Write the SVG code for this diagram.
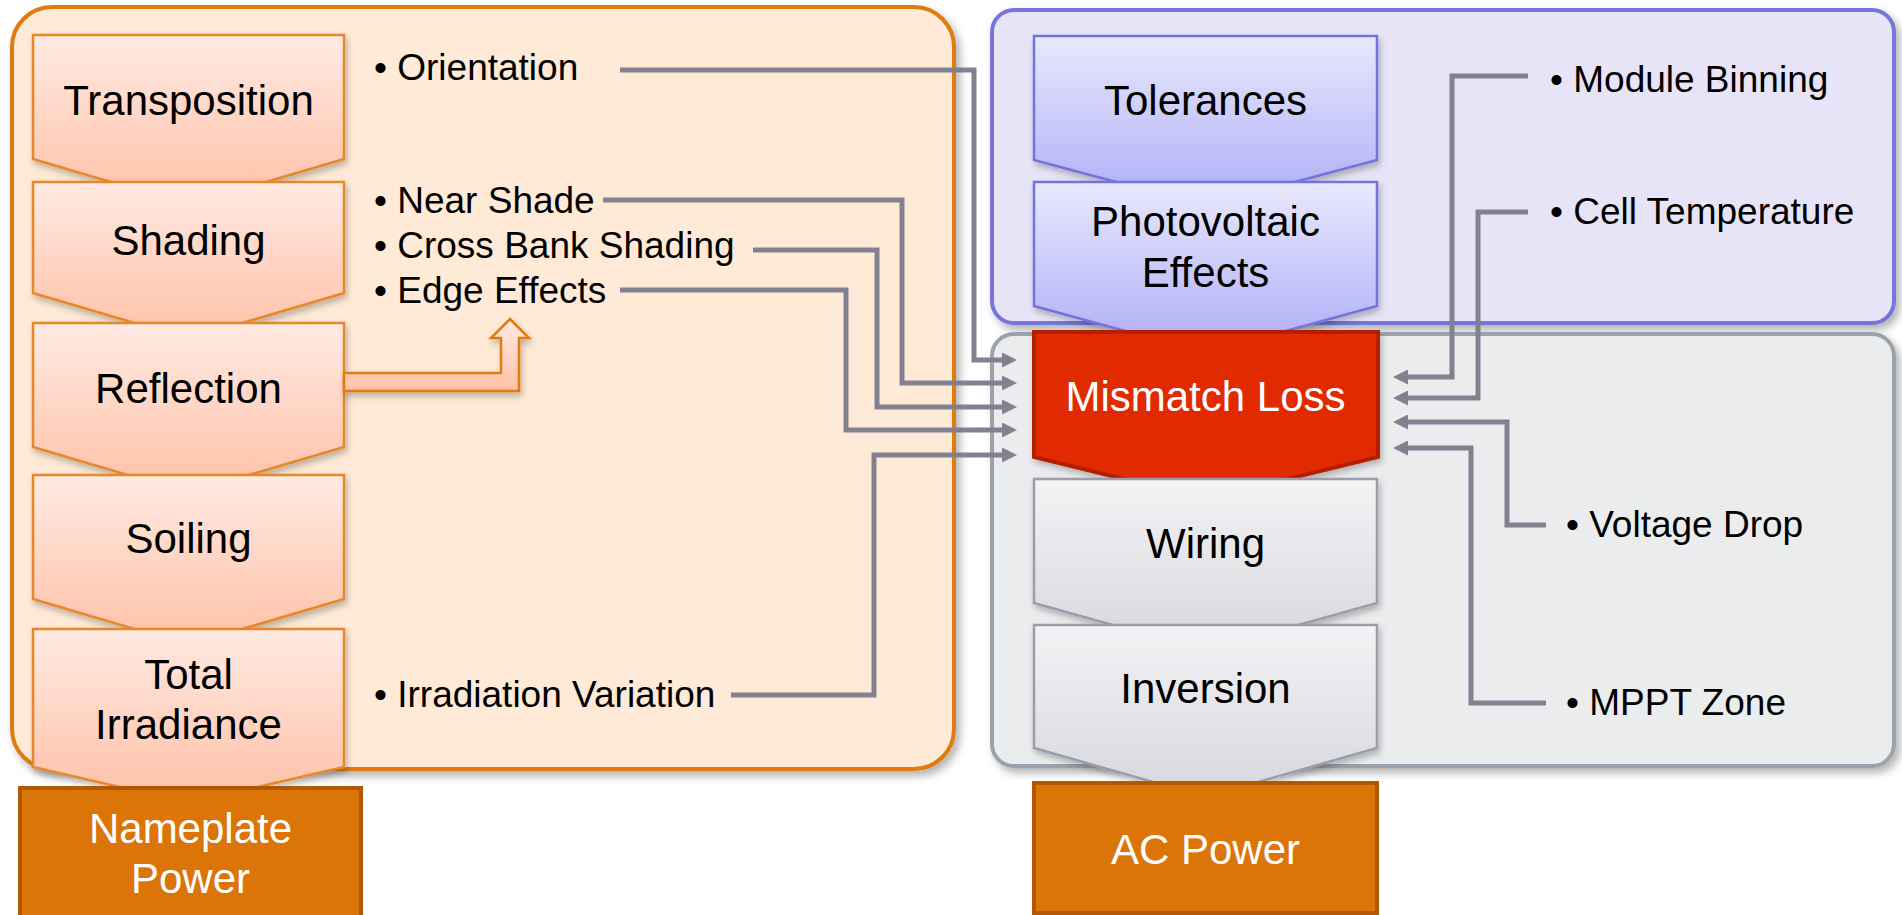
<svg xmlns="http://www.w3.org/2000/svg" width="1902" height="915" viewBox="0 0 1902 915">
<defs>
<linearGradient id="gOr" x1="0" y1="0" x2="0" y2="1"><stop offset="0" stop-color="#FFEAE2"/><stop offset="1" stop-color="#FFC0A6"/></linearGradient>
<linearGradient id="gBl" x1="0" y1="0" x2="0" y2="1"><stop offset="0" stop-color="#E8E8FC"/><stop offset="1" stop-color="#ADADF7"/></linearGradient>
<linearGradient id="gGr" x1="0" y1="0" x2="0" y2="1"><stop offset="0" stop-color="#F3F3F5"/><stop offset="1" stop-color="#D6D6DE"/></linearGradient>
<filter id="sh" x="-5%" y="-5%" width="112%" height="115%"><feDropShadow dx="4" dy="5" stdDeviation="4" flood-color="#000" flood-opacity="0.3"/></filter>
<filter id="sh2" x="-5%" y="-5%" width="115%" height="125%"><feDropShadow dx="2" dy="4" stdDeviation="3" flood-color="#000" flood-opacity="0.25"/></filter>
<marker id="ah" viewBox="0 0 15 15" markerWidth="15" markerHeight="15" markerUnits="userSpaceOnUse" refX="3" refY="7.5" orient="auto"><path d="M0,0 L15,7.5 L0,15 z" fill="#83808F"/></marker>
<style>
.t{font-family:"Liberation Sans",Arial,sans-serif;font-size:42px;fill:#000;text-anchor:middle}
.w{fill:#fff}
.b{font-family:"Liberation Sans",Arial,sans-serif;font-size:37px;fill:#000}
.co{fill:url(#gOr);stroke:#E8862A;stroke-width:2.5;filter:url(#sh2)}
.cb{fill:url(#gBl);stroke:#7373DF;stroke-width:2.5;filter:url(#sh2)}
.cg{fill:url(#gGr);stroke:#9C9CAA;stroke-width:2.5;filter:url(#sh2)}
.ln{fill:none;stroke:#83808F;stroke-width:5;stroke-linejoin:miter}
.box{fill:#DC7508;stroke:#B25800;stroke-width:4}
</style>
</defs>
<rect width="1902" height="915" fill="#fff"/>
<g id="panels">
<rect id="panel-left" x="12" y="7" width="942" height="762" rx="40" fill="#FEEAD6" stroke="#E07B10" stroke-width="4" filter="url(#sh)"/>
<rect id="panel-blue" x="992" y="10" width="902" height="313" rx="22" fill="#E6E4F6" stroke="#7575DA" stroke-width="4" filter="url(#sh)"/>
<rect id="panel-gray" x="992" y="334" width="902" height="432" rx="22" fill="#EBECEE" stroke="#9AA2AC" stroke-width="4" filter="url(#sh)"/>
</g>
<g id="transposition"><polygon class="co" points="33,35 344,35 344,159 188.5,205 33,159"/><text class="t" x="188.5" y="115">Transposition</text></g>
<g id="shading"><polygon class="co" points="33,182 344,182 344,293 188.5,339 33,293"/><text class="t" x="188.5" y="255">Shading</text></g>
<g id="reflection"><polygon class="co" points="33,323 344,323 344,447 188.5,493 33,447"/><text class="t" x="188.5" y="403">Reflection</text></g>
<g id="soiling"><polygon class="co" points="33,475 344,475 344,599 188.5,645 33,599"/><text class="t" x="188.5" y="553">Soiling</text></g>
<g id="total-irradiance"><polygon class="co" points="33,629 344,629 344,767 188.5,803 33,767"/><text class="t" x="188.5" y="689">Total</text><text class="t" x="188.5" y="739">Irradiance</text></g>
<g id="nameplate-power"><rect class="box" x="20" y="788" width="341" height="132"/><text class="t w" x="190.5" y="843">Nameplate</text><text class="t w" x="190.5" y="893">Power</text></g>
<g id="tolerances"><polygon class="cb" points="1034,36 1377,36 1377,160 1205.5,206 1034,160"/><text class="t" x="1205.5" y="115">Tolerances</text></g>
<g id="photovoltaic-effects"><polygon class="cb" points="1034,182 1377,182 1377,306 1205.5,353 1034,306"/><text class="t" x="1205.5" y="236">Photovoltaic</text><text class="t" x="1205.5" y="287">Effects</text></g>
<g id="mismatch-loss"><polygon points="1034,332 1378,332 1378,457 1205.5,499 1034,457" fill="#E22B00" stroke="#B51C00" stroke-width="4" filter="url(#sh2)"/><text class="t w" x="1205.5" y="411">Mismatch Loss</text></g>
<g id="wiring"><polygon class="cg" points="1034,479 1377,479 1377,603 1205.5,651 1034,603"/><text class="t" x="1205.5" y="558">Wiring</text></g>
<g id="inversion"><polygon class="cg" points="1034,625 1377,625 1377,748 1205.5,797 1034,748"/><text class="t" x="1205.5" y="703">Inversion</text></g>
<g id="ac-power"><rect class="box" x="1034" y="783" width="343" height="130"/><text class="t w" x="1205.5" y="864">AC Power</text></g>
<g id="bullets">
<text class="b" x="374" y="80">• Orientation</text>
<text class="b" x="374" y="213">• Near Shade</text>
<text class="b" x="374" y="258">• Cross Bank Shading</text>
<text class="b" x="374" y="303">• Edge Effects</text>
<text class="b" x="374" y="707">• Irradiation Variation</text>
<text class="b" x="1550" y="92">• Module Binning</text>
<text class="b" x="1550" y="224">• Cell Temperature</text>
<text class="b" x="1566" y="537">• Voltage Drop</text>
<text class="b" x="1566" y="715">• MPPT Zone</text>
</g>
<g id="connectors">
<path d="M344,373 H501 V338 H491 L510,319 L529,338 H519 V391 H344 Z" fill="url(#gOr)" stroke="#E07B10" stroke-width="2.5" filter="url(#sh2)"/>
<path class="ln" d="M620,70 H974 V360 H1005" marker-end="url(#ah)"/>
<path class="ln" d="M603,200 H902 V383 H1005" marker-end="url(#ah)"/>
<path class="ln" d="M753,250 H877 V407 H1005" marker-end="url(#ah)"/>
<path class="ln" d="M620,290 H846 V430 H1005" marker-end="url(#ah)"/>
<path class="ln" d="M731,695 H874 V455 H1005" marker-end="url(#ah)"/>
<path class="ln" d="M1528,76 H1452 V377 H1405" marker-end="url(#ah)"/>
<path class="ln" d="M1528,212 H1478 V398 H1405" marker-end="url(#ah)"/>
<path class="ln" d="M1546,525 H1507 V422 H1405" marker-end="url(#ah)"/>
<path class="ln" d="M1546,703 H1471 V448 H1405" marker-end="url(#ah)"/>
</g>
</svg>
